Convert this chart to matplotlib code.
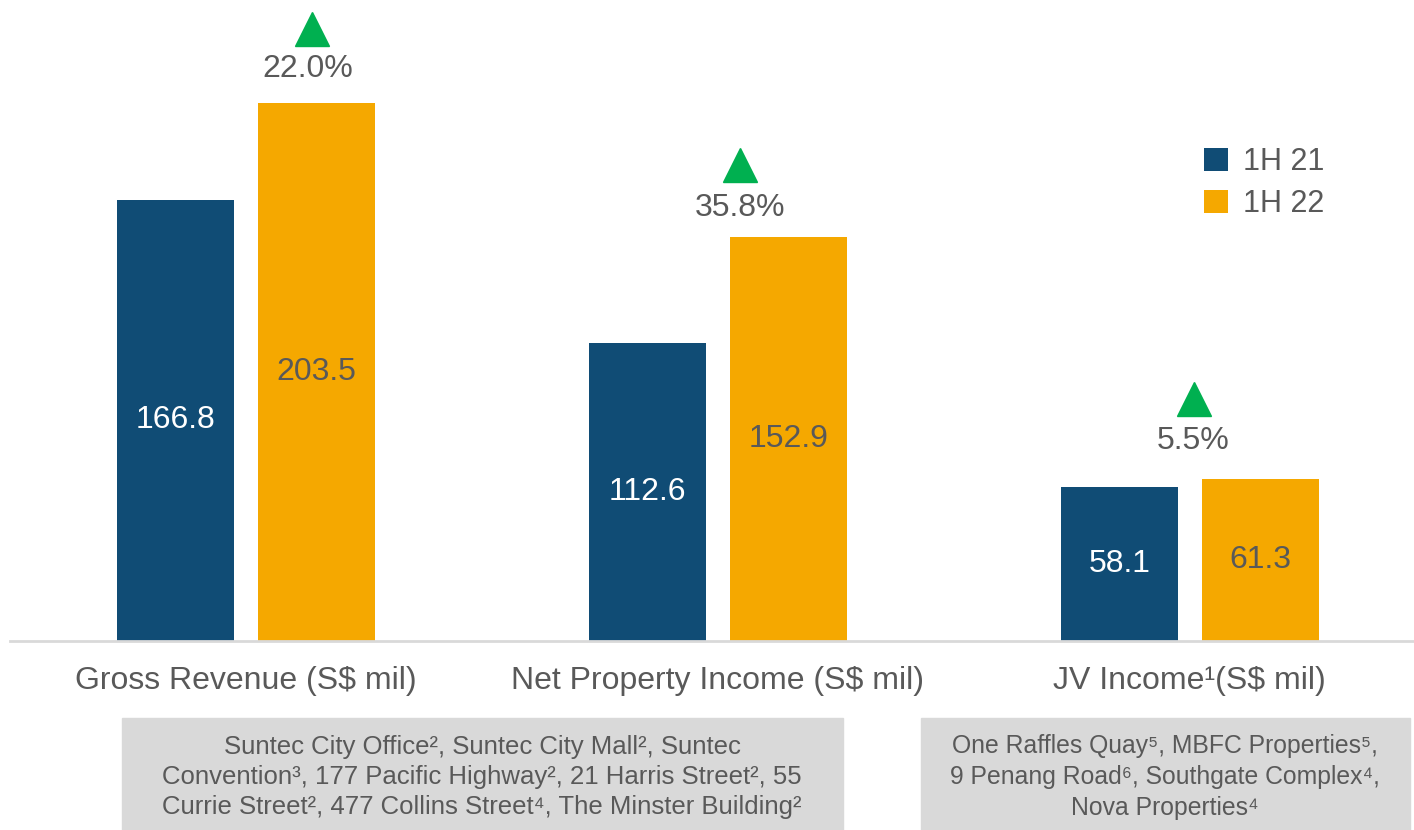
import matplotlib
matplotlib.use("Agg")
import matplotlib.pyplot as plt
from matplotlib.patches import Rectangle
import numpy as np

plt.rcParams['font.family'] = ['Liberation Sans', 'DejaVu Sans']

# Chart data
categories = ["Gross Revenue (S$ mil)", "Net Property Income (S$ mil)", "JV Income\u00b9(S$ mil)"]
series_names = ["1H 21", "1H 22"]
values_1h21 = [166.8, 112.6, 58.1]
values_1h22 = [203.5, 152.9, 61.3]
growth_labels = ["22.0%", "35.8%", "5.5%"]
footnote_left = ("Suntec City Office\u00b2, Suntec City Mall\u00b2, Suntec\n"
                 "Convention\u00b3, 177 Pacific Highway\u00b2, 21 Harris Street\u00b2, 55\n"
                 "Currie Street\u00b2, 477 Collins Street\u2074, The Minster Building\u00b2")
footnote_right = ("One Raffles Quay\u2075, MBFC Properties\u2075,\n"
                  "9 Penang Road\u2076, Southgate Complex\u2074,\n"
                  "Nova Properties\u2074")

navy = "#104C75"
orange = "#F5A800"
green = "#00B050"
grey_text = "#595959"

fig = plt.figure(figsize=(14.14, 8.30), dpi=100)
ax = fig.add_axes([10 / 1414, 189 / 830, 1404 / 1414, 641 / 830])

x = np.arange(len(categories))
width = 0.248
offset = 0.1495

bars1 = ax.bar(x - offset, values_1h21, width, color=navy, label=series_names[0])
bars2 = ax.bar(x + offset, values_1h22, width, color=orange, label=series_names[1])

# value labels in the middle of each bar
for b, v in zip(bars1, values_1h21):
    ax.text(b.get_x() + b.get_width() / 2, v / 2, f"{v:.1f}", ha="center", va="center",
            color="white", fontsize=23)
for b, v in zip(bars2, values_1h22):
    ax.text(b.get_x() + b.get_width() / 2, v / 2, f"{v:.1f}", ha="center", va="center",
            color=grey_text, fontsize=23)

# growth markers above the 1H 22 bars
tri_dx = [0.14, 0.047, 0.008]
txt_dx = [0.131, 0.047, 0.008]
tri_dy = [74, 71, 80]
txt_dy = [34, 29, 38]
for i, v in enumerate(values_1h22):
    ax.plot(x[i] + tri_dx[i], v + tri_dy[i] / 2.645, marker="^", markersize=25,
            color=green, clip_on=False)
    ax.annotate(growth_labels[i], xy=(x[i] + txt_dx[i], v), xytext=(0, txt_dy[i]),
                textcoords="offset pixels", ha="center", va="center",
                color=grey_text, fontsize=23)

ax.set_xlim(-0.5, 2.475)
ax.set_ylim(0, 242.3)
ax.set_xticks(x)
ax.set_xticklabels(categories, fontsize=23, color=grey_text)
ax.tick_params(axis="x", length=0, pad=18)
ax.set_yticks([])
for side in ["top", "right", "left"]:
    ax.spines[side].set_visible(False)
ax.spines["bottom"].set_color("#D9D9D9")
ax.spines["bottom"].set_linewidth(2)

leg = ax.legend(loc="upper left", bbox_to_anchor=(1182 / 1404, 506 / 641), frameon=False,
                fontsize=22, handlelength=0.78, handleheight=0.78, handletextpad=0.5,
                labelspacing=0.4, borderaxespad=0)
for t in leg.get_texts():
    t.set_color(grey_text)

# footnote boxes
fig.patches.append(Rectangle((122 / 1414, 0), 721 / 1414, 112 / 830,
                             transform=fig.transFigure, color="#D9D9D9", zorder=0))
fig.patches.append(Rectangle((921 / 1414, 0), 489 / 1414, 112 / 830,
                             transform=fig.transFigure, color="#D9D9D9", zorder=0))
fig.text(482 / 1414, 1 - 777 / 830, footnote_left, ha="center", va="center",
         fontsize=18.5, color=grey_text, linespacing=1.33)
fig.text(1165 / 1414, 1 - 777 / 830, footnote_right, ha="center", va="center",
         fontsize=17.8, color=grey_text, linespacing=1.37)

fig.savefig("out.png", dpi=100)
